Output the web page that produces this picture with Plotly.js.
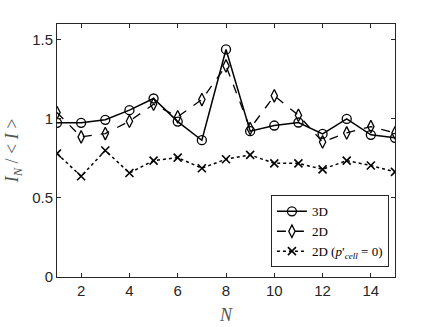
<!DOCTYPE html>
<html>
<head>
<meta charset="utf-8">
<script src="https://cdn.plot.ly/plotly-3.0.1.min.js"></script>
<style>
  html, body { margin: 0; padding: 0; background: #fff; }
  #graph { width: 436px; height: 327px; }
</style>
</head>
<body>
<div id="graph"></div>
<script>
// values
var N = [1, 2, 3, 4, 5, 6, 7, 8, 9, 10, 11, 12, 13, 14, 15];
var y3D = [0.975, 0.975, 0.994, 1.055, 1.129, 0.983, 0.865, 1.439, 0.922, 0.958, 0.977, 0.905, 1.0, 0.899, 0.88];
var y2D = [1.040, 0.886, 0.907, 0.985, 1.093, 1.013, 1.122, 1.335, 0.939, 1.146, 1.023, 0.854, 0.911, 0.951, 0.911];
var y2Dp0 = [0.781, 0.637, 0.800, 0.658, 0.736, 0.755, 0.688, 0.745, 0.772, 0.719, 0.719, 0.681, 0.736, 0.705, 0.665];
var xTicks = [2, 4, 6, 8, 10, 12, 14];
var yTicks = [0, 0.5, 1, 1.5];

var axisColor = '#262626';
var serif = 'Liberation Serif, Times New Roman, serif';

var trace1 = {
    x: N, y: y3D,
    mode: 'lines+markers',
    name: '3D',
    line: {color: '#000', width: 1.5, dash: 'solid'},
    marker: {symbol: 'circle-open', size: 9, color: '#000', line: {color: '#000', width: 1.3}}
};
var trace2 = {
    x: N, y: y2D,
    mode: 'lines+markers',
    name: '2D',
    line: {color: '#000', width: 1.3, dash: 'dash'},
    marker: {symbol: 'diamond-tall-open', size: 9, color: '#000', line: {color: '#000', width: 1.3}}
};
var trace3 = {
    x: N, y: y2Dp0,
    mode: 'lines+markers',
    name: '2D (<i>p</i>′<sub><i>cell</i></sub> = 0)',
    line: {color: '#000', width: 1.5, dash: 'dot'},
    marker: {symbol: 'x-thin-open', size: 8, color: '#000', line: {color: '#000', width: 1.6}}
};

var layout = {
    width: 436,
    height: 327,
    margin: {l: 57, r: 41, t: 24, b: 50},
    paper_bgcolor: '#fff',
    plot_bgcolor: '#fff',
    showlegend: true,
    legend: {
        x: 0.982, xanchor: 'right',
        y: 0.038, yanchor: 'bottom',
        bgcolor: '#fff',
        bordercolor: axisColor,
        borderwidth: 1,
        font: {family: serif, size: 13, color: '#000'},
        tracegroupgap: 0,
        itemwidth: 30
    },
    xaxis: {
        range: [1, 15],
        tickvals: xTicks,
        ticks: 'inside',
        ticklen: 4,
        tickcolor: axisColor,
        showline: true,
        linecolor: axisColor,
        linewidth: 1,
        mirror: 'ticks',
        showgrid: false,
        zeroline: false,
        tickfont: {family: 'Liberation Sans, Arial, sans-serif', size: 15, color: axisColor},
        title: {text: '<i>N</i>', font: {family: serif, size: 18, color: '#555'}, standoff: 10}
    },
    yaxis: {
        range: [0, 1.6],
        tickvals: yTicks,
        ticks: 'inside',
        ticklen: 4,
        tickcolor: axisColor,
        showline: true,
        linecolor: axisColor,
        linewidth: 1,
        mirror: 'ticks',
        showgrid: false,
        zeroline: false,
        tickfont: {family: 'Liberation Sans, Arial, sans-serif', size: 15, color: axisColor},
        title: {text: '<i>I</i><sub><i>N</i></sub> / < <i>I</i> >', font: {family: serif, size: 18, color: '#555'}, standoff: 8}
    }
};

Plotly.newPlot('graph', [trace1, trace2, trace3], layout, {staticPlot: true});
</script>
</body>
</html>
